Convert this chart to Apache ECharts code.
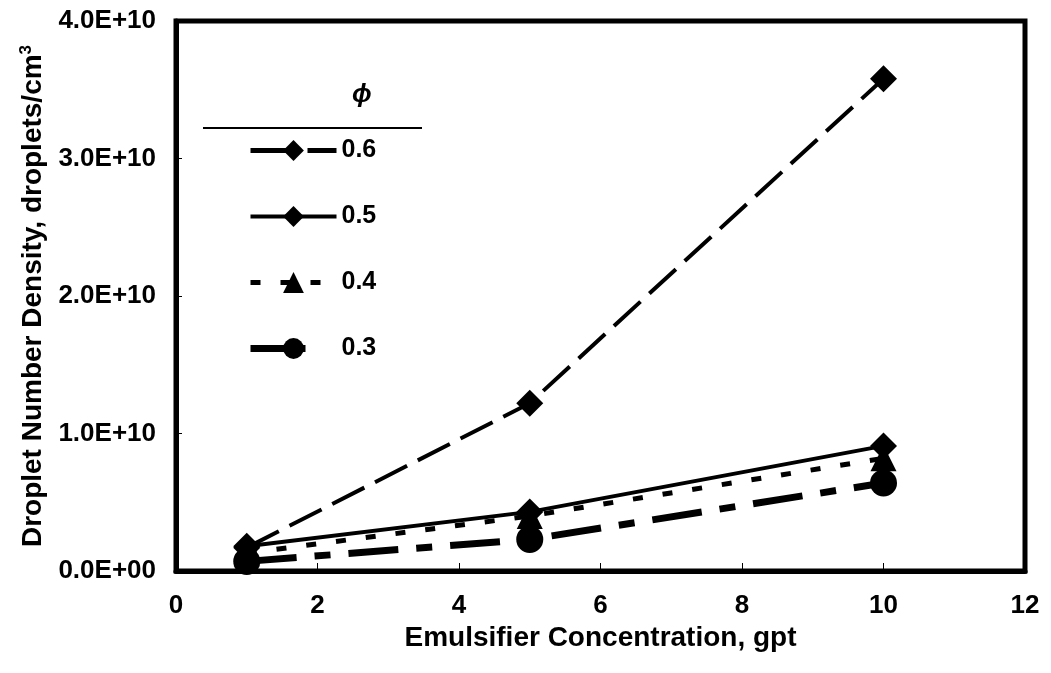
<!DOCTYPE html>
<html>
<head>
<meta charset="utf-8">
<script src="https://cdn.jsdelivr.net/npm/echarts@6/dist/echarts.min.js"></script>
<style>html,body{margin:0;padding:0;background:#fff}#c{width:1051px;height:673px}</style>
</head>
<body>
<div id="c"></div>
<script>
const conc = [1, 5, 10];
const seriesNames = ['0.6', '0.5', '0.4', '0.3'];
const phi06 = [1.7e9, 1.22e10, 3.58e10];
const phi05 = [1.8e9, 4.3e9, 9.1e9];
const phi04 = [1.3e9, 4.0e9, 8.2e9];
const phi03 = [0.7e9, 2.3e9, 6.4e9];
const xTitle = 'Emulsifier Concentration, gpt';
const yTitleMain = 'Droplet Number Density, droplets/cm';
const yTitleSup = '3';
const legendTitle = 'ϕ';

const FONT = '"Liberation Sans", Arial, sans-serif';
function fmtE(v) {
  if (v === 0) return '0.0E+00';
  const e = Math.floor(Math.log10(v) + 1e-9);
  const m = v / Math.pow(10, e);
  return m.toFixed(1) + 'E+' + String(e).padStart(2, '0');
}
function pairs(ys) { return conc.map((x, i) => [x, ys[i]]); }

const styles = [
  {symbol: 'diamond', size: 27, type: [36, 12], width: 4},
  {symbol: 'diamond', size: 27, type: 'solid', width: 4},
  {symbol: 'triangle', size: 26, type: [10, 20], width: 5},
  {symbol: 'circle', size: 27, type: [50, 18, 16, 18], width: 7}
];
const legendLine = [
  {type: [45, 12], width: 5},
  {type: 'solid', width: 4},
  {type: [10, 20], width: 5},
  {type: [55, 40], width: 7}
];

const chart = echarts.init(document.getElementById('c'), null, {renderer: 'canvas'});
const allData = [phi06, phi05, phi04, phi03];
chart.setOption({
  animation: false,
  backgroundColor: '#fff',
  grid: {left: 176, right: 26, top: 21, bottom: 102, show: true, borderColor: '#000', borderWidth: 5},
  xAxis: {
    type: 'value', min: 0, max: 12, interval: 2,
    name: xTitle, nameLocation: 'middle', nameGap: 46,
    nameTextStyle: {fontFamily: FONT, fontWeight: 'bold', fontSize: 28, color: '#000'},
    axisLine: {lineStyle: {color: '#000', width: 5}},
    axisTick: {inside: true, length: 8, lineStyle: {color: '#000', width: 1}},
    axisLabel: {margin: 22, fontFamily: FONT, fontWeight: 'bold', fontSize: 26, color: '#000'},
    splitLine: {show: false}
  },
  yAxis: {
    type: 'value', min: 0, max: 4e10, interval: 1e10,
    name: '{a|' + yTitleMain + '}{s|' + yTitleSup + '}', nameLocation: 'middle', nameGap: 115, nameRotate: 90,
    nameTextStyle: {
      rich: {
        a: {fontFamily: FONT, fontWeight: 'bold', fontSize: 28, color: '#000'},
        s: {fontFamily: FONT, fontWeight: 'bold', fontSize: 17, color: '#000', verticalAlign: 'top', padding: [0, 0, 14, 0]}
      }
    },
    axisLine: {lineStyle: {color: '#000', width: 5}},
    axisTick: {inside: true, length: 6, lineStyle: {color: '#000', width: 1}},
    axisLabel: {margin: 20, fontFamily: FONT, fontWeight: 'bold', fontSize: 26, color: '#000', formatter: fmtE},
    splitLine: {show: false}
  },
  legend: {
    orient: 'vertical', left: 242, top: 133,
    itemWidth: 86, itemHeight: 26, itemGap: 41,
    data: seriesNames.map((n, i) => ({name: n, lineStyle: {color: '#000', width: legendLine[i].width, type: legendLine[i].type}})),
    textStyle: {fontFamily: FONT, fontWeight: 'bold', fontSize: 25, color: '#000'}
  },
  graphic: [
    {type: 'text', left: 352, top: 82, style: {text: legendTitle, font: 'italic bold 26px ' + FONT, fill: '#000'}},
    {type: 'line', shape: {x1: 203, y1: 128, x2: 422, y2: 128}, style: {stroke: '#000', lineWidth: 2}}
  ],
  series: seriesNames.map((n, i) => ({
    name: n, type: 'line', data: pairs(allData[i]), symbol: styles[i].symbol, symbolSize: styles[i].size,
    itemStyle: {color: '#000'},
    lineStyle: {color: '#000', width: styles[i].width, type: styles[i].type, cap: 'butt'},
    showSymbol: true, z: 3
  }))
});
</script>
</body>
</html>
